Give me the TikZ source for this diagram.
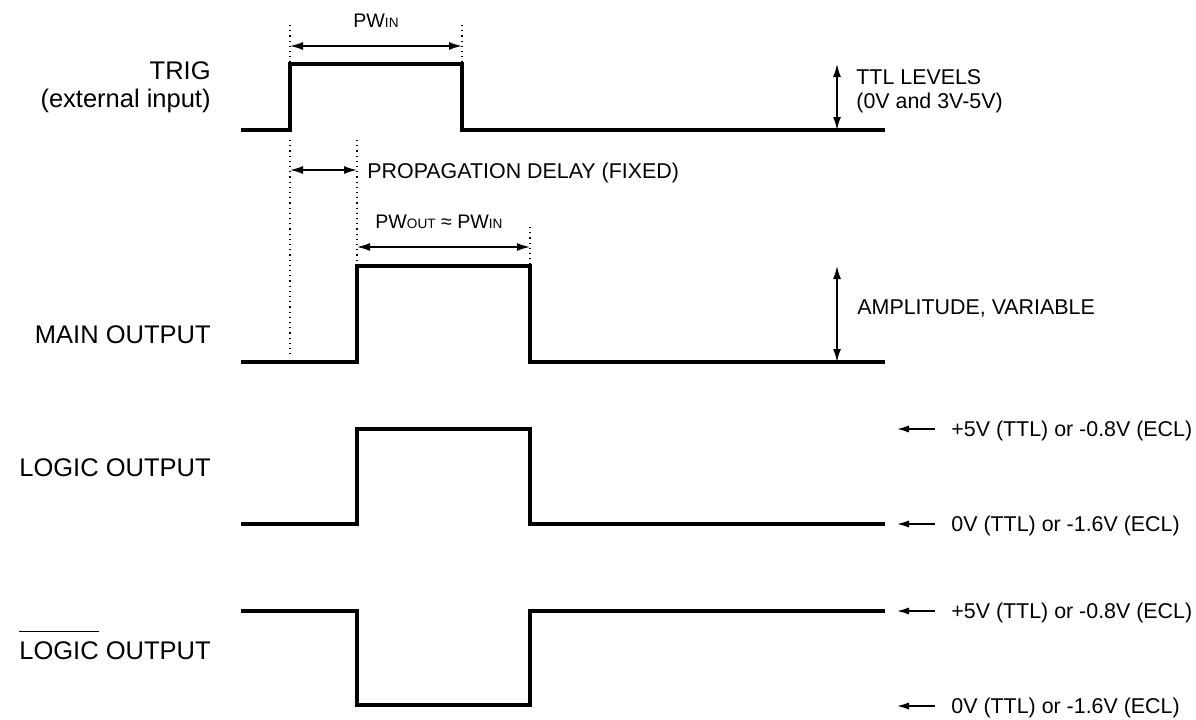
\documentclass[tikz,border=0pt]{standalone}
\usepackage{fontspec}
\setmainfont{Liberation Sans}
\usetikzlibrary{arrows.meta}
\newcommand{\barred}[1]{\leavevmode\vbox{\hrule height 0.7pt\kern 4.6pt\hbox{#1}}}

\begin{document}
\begin{tikzpicture}[x=0.5pt, y=-0.5pt,
	wave/.style={line width=1.6pt, line join=miter},
	dim/.style={line width=0.8pt, {Latex[length=6.5pt,width=4pt]}-{Latex[length=6.5pt,width=4pt]}},
	level/.style={line width=0.8pt, -{Latex[length=6pt,width=3.6pt]}},
	guide/.style={line width=0.6pt, dotted},
	sig/.style={font=\fontsize{12.75}{15}\selectfont, inner sep=0pt, anchor=base east},
	note/.style={font=\fontsize{10.7}{13}\selectfont, inner sep=0pt, anchor=base west}]
\useasboundingbox (0,0) rectangle (1196,719);

% signal names
\node[sig] (trig) at (211,79) {TRIG};
\node[sig] (trigsub) at (211,107) {(external input)};
\node[sig] (main) at (211,343) {MAIN OUTPUT};
\node[sig] (logic) at (211,476) {LOGIC OUTPUT};
\node[sig] (nlogic) at (211,659) {\barred{LOGIC} OUTPUT};

% waveforms
\draw[wave] (241,130) -- (290,130) coordinate (trigup) -- (290,64) -- (462,64) coordinate (trigdown) -- (462,130) -- (885,130) coordinate (trigend);
\draw[wave] (241,362) -- (357,362) coordinate (mainup) -- (357,266) -- (530,266) coordinate (maindown) -- (530,362) -- (885,362) coordinate (mainend);
\draw[wave] (241,524) -- (357,524) -- (357,429) -- (530,429) -- (530,524) -- (885,524);
\draw[wave] (241,611) -- (357,611) -- (357,705) -- (530,705) -- (530,611) -- (885,611);

% pulse width in
\coordinate (pwl) at (290,46);
\coordinate (pwr) at (462,46);
\draw[guide] (290,25) -- (290,62);
\draw[guide] (462,25) -- (462,62);
\draw[dim] (pwl) -- (pwr);
\node[font=\fontsize{9.8}{12}\selectfont, inner sep=0pt, anchor=base] (pwin) at (376,27) {PW{\fontsize{6.8}{8}\selectfont IN}};

% ttl levels
\coordinate (ttlhi) at (837,64);
\coordinate (ttllo) at (837,130);
\draw[dim] (ttlhi) -- (ttllo);
\node[note] (ttl) at (856,84) {TTL LEVELS};
\node[note] (ttlsub) at (856,108) {(0V and 3V-5V)};

% propagation delay
\draw[guide] (290,140) -- (290,355);
\draw[guide] (357,140) -- (357,264);
\coordinate (pdl) at (290,170);
\coordinate (pdr) at (357,170);
\draw[dim] (pdl) -- (pdr);
\node[note] (prop) at (367,178) {PROPAGATION DELAY (FIXED)};

% pulse width out
\draw[guide] (530,227) -- (530,264);
\coordinate (pol) at (357,247);
\coordinate (por) at (530,247);
\draw[dim] (pol) -- (por);
\node[font=\fontsize{9.8}{12}\selectfont, inner sep=0pt, anchor=base west] (pwout) at (375,228) {PW{\fontsize{6.8}{8}\selectfont OUT} ≈ PW{\fontsize{6.8}{8}\selectfont IN}};

% amplitude
\coordinate (amphi) at (837,266);
\coordinate (amplo) at (837,362);
\draw[dim] (amphi) -- (amplo);
\node[note] (amp) at (857,314) {AMPLITUDE, VARIABLE};

% logic levels
\foreach \y/\txt [count=\i] in {429/{+5V (TTL) or -0.8V (ECL)}, 524/{0V (TTL) or -1.6V (ECL)}, 611/{+5V (TTL) or -0.8V (ECL)}, 706/{0V (TTL) or -1.6V (ECL)}} {
	\coordinate (lvtail\i) at (935,\y);
	\coordinate (lvhead\i) at (897,\y);
	\draw[level] (lvtail\i) -- (lvhead\i);
	\node[note] (lv\i) at (951,\y+7) {\txt};
}
\end{tikzpicture}
\end{document}
